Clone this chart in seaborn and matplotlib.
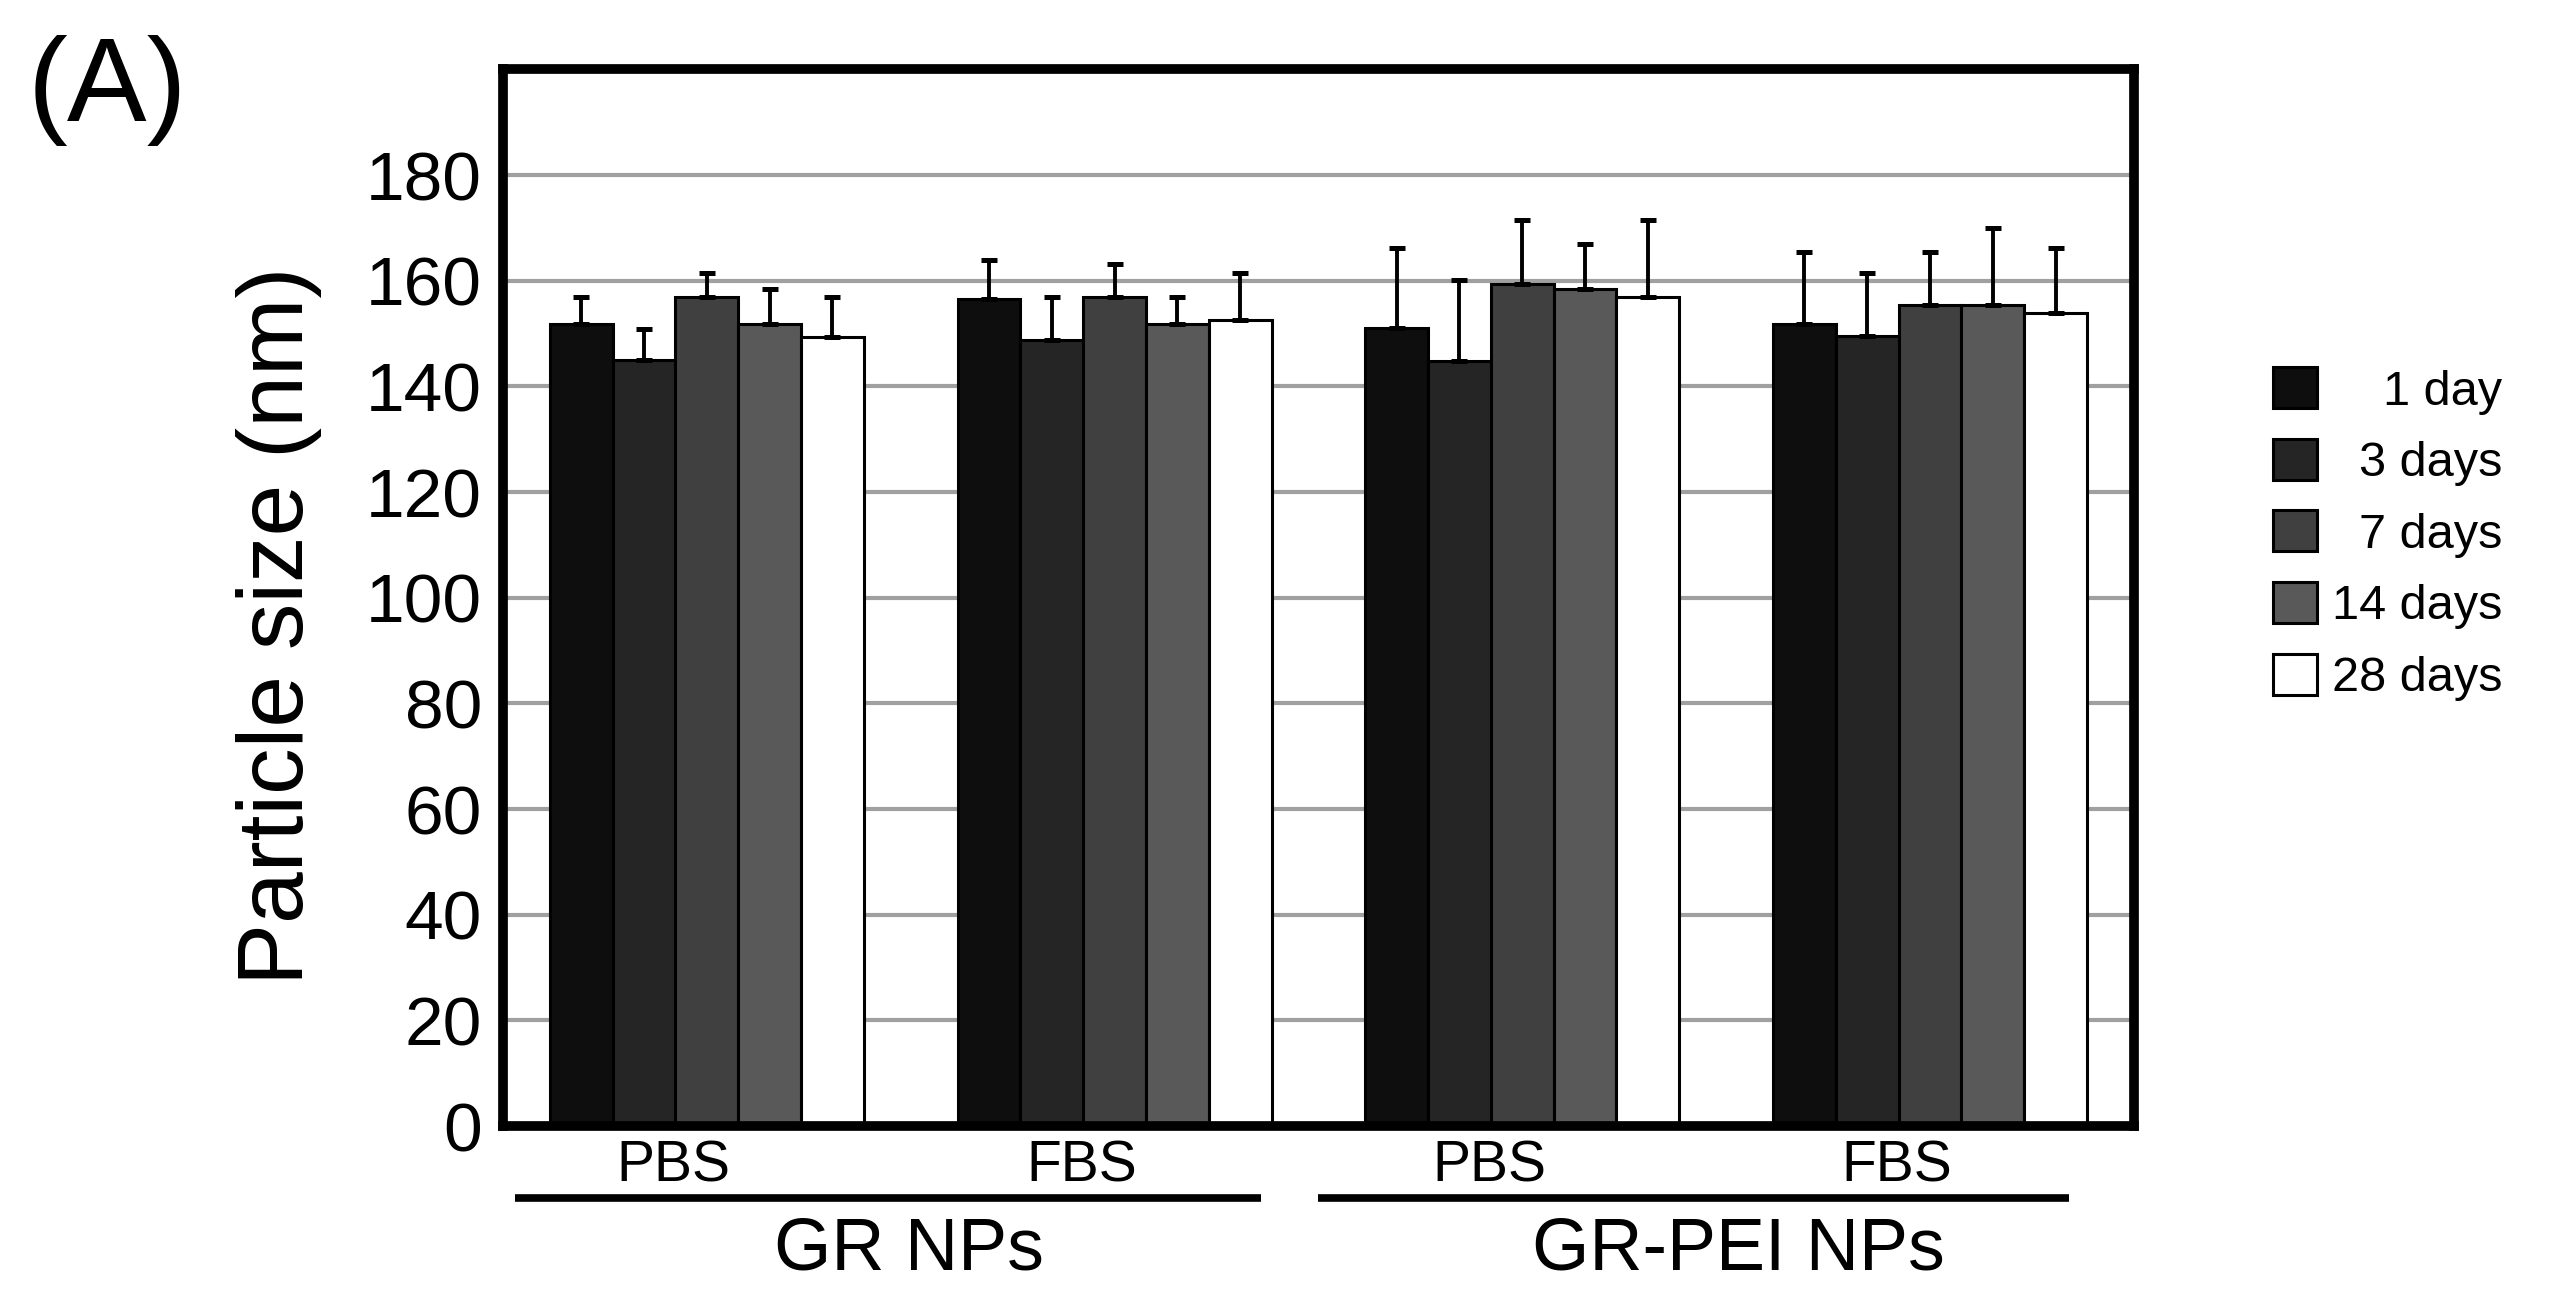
import numpy as np
import pandas as pd
import matplotlib
matplotlib.use('Agg')
import matplotlib.pyplot as plt
import matplotlib.transforms as mtransforms
import seaborn as sns

# values (mean particle size and upper SD, nm)
conditions = ['GR PBS', 'GR FBS', 'GR-PEI PBS', 'GR-PEI FBS']
medium_labels = ['PBS', 'FBS', 'PBS', 'FBS']
time_points = ['1 day', '3 days', '7 days', '14 days', '28 days']
size_1d = [151.8, 156.6, 151.0, 151.8]
size_3d = [145.0, 148.8, 144.8, 149.5]
size_7d = [157.0, 157.0, 159.4, 155.4]
size_14d = [151.8, 151.8, 158.4, 155.4]
size_28d = [149.3, 152.5, 157.0, 153.8]
sd_1d = [5.1, 7.3, 15.2, 13.6]
sd_3d = [5.8, 8.1, 15.3, 12.0]
sd_7d = [4.5, 6.2, 12.1, 10.0]
sd_14d = [6.6, 5.1, 8.5, 14.5]
sd_28d = [7.6, 9.0, 14.5, 12.4]
groups = ['GR NPs', 'GR-PEI NPs']
ytick_values = [0, 20, 40, 60, 80, 100, 120, 140, 160, 180, 200]
ytick_labels = ['0', '20', '40', '60', '80', '100', '120', '140', '160', '180', '']

bar_colors = ['#0e0e0e', '#252525', '#404040', '#595959', '#ffffff']

sizes = [size_1d, size_3d, size_7d, size_14d, size_28d]
sds = [sd_1d, sd_3d, sd_7d, sd_14d, sd_28d]
rows = []
for t, vals, errs in zip(time_points, sizes, sds):
    for c, v, e in zip(conditions, vals, errs):
        rows.append({'condition': c, 'time': t, 'size': v, 'sd': e})
df = pd.DataFrame(rows)

sns.set_style('white')
plt.rcParams['font.family'] = ['Liberation Sans', 'DejaVu Sans']
plt.rcParams['text.color'] = 'black'
plt.rcParams['axes.labelcolor'] = 'black'

fig = plt.figure(figsize=(25.71, 13.09), dpi=100)
ax = fig.add_axes([0.1956, 0.1398, 0.6344, 0.8072])

sns.barplot(data=df, x='condition', y='size', hue='time', order=conditions,
            hue_order=time_points, palette=bar_colors, edgecolor='black',
            linewidth=2.2, width=0.77, errorbar=None, saturation=1, ax=ax)

# upper-only error bars on each bar
for cont, t in zip(ax.containers, time_points):
    sub = df[df['time'] == t].set_index('condition').loc[conditions]
    xs = [b.get_x() + b.get_width() / 2 for b in cont]
    ax.errorbar(xs, sub['size'].values, yerr=[np.zeros(len(xs)), sub['sd'].values],
                fmt='none', ecolor='black', elinewidth=2.8, capsize=6, capthick=3.6,
                zorder=3)

ax.set_ylim(0, 200)
ax.set_xlim(-0.5, 3.5)
ax.set_yticks(ytick_values)
ax.set_yticklabels(ytick_labels)
ax.set_xticks(range(len(conditions)))
ax.set_xticklabels(medium_labels)
ax.set_xticks([-0.5, 0.5, 1.5, 2.5, 3.5], minor=True)
ax.tick_params(axis='x', which='major', length=0, pad=10, labelsize=41, labelcolor='black')
ax.tick_params(axis='x', which='minor', length=9, width=1.5, color='#888888', direction='out')
ax.tick_params(axis='y', length=5, width=2, color='#888888', pad=10, labelsize=50,
               labelcolor='black', direction='out')
# medium labels sit a little left of the category centres
shift = mtransforms.ScaledTranslation(-0.33, 0, fig.dpi_scale_trans)
for lab in ax.get_xticklabels():
    lab.set_transform(lab.get_transform() + shift)

ax.yaxis.grid(True, color='#a0a0a0', lw=3)
ax.set_axisbelow(True)
ax.set_xlabel('')
ax.set_ylabel('Particle size (nm)', fontsize=67)
ax.yaxis.set_label_coords(-0.111, 0.473)

for s in ax.spines.values():
    s.set_color('black')
    s.set_linewidth(7)

# group bars and labels under the medium labels
trans = mtransforms.blended_transform_factory(ax.transData, ax.transAxes)
group_spans = [(-0.47, 1.36), (1.50, 3.34)]
group_centers = [0.495, 2.53]
for g, (x0, x1), xc in zip(groups, group_spans, group_centers):
    ax.plot([x0, x1], [-0.068, -0.068], color='black', lw=5.5, transform=trans,
            clip_on=False, solid_capstyle='butt')
    ax.text(xc, -0.117, g, transform=trans, ha='center', va='center', fontsize=53)

handles, labels = ax.get_legend_handles_labels()
leg = ax.legend(handles, labels, loc='center left', bbox_to_anchor=(0.884, 0.592),
                bbox_transform=fig.transFigure, frameon=False, fontsize=35,
                handlelength=0.92, handleheight=0.92, handletextpad=0.3,
                labelspacing=0.5, borderpad=0, borderaxespad=0)
# right-align the legend labels
fig.canvas.draw()
widths = [t.get_window_extent().width for t in leg.get_texts()]
wmax = max(widths)
for t, w in zip(leg.get_texts(), widths):
    t.set_x(wmax - w)

fig.text(107 / 2571, 1 - 90 / 1309, '(A)', ha='center', va='center', fontsize=86)

fig.savefig('out.png', dpi=100)
